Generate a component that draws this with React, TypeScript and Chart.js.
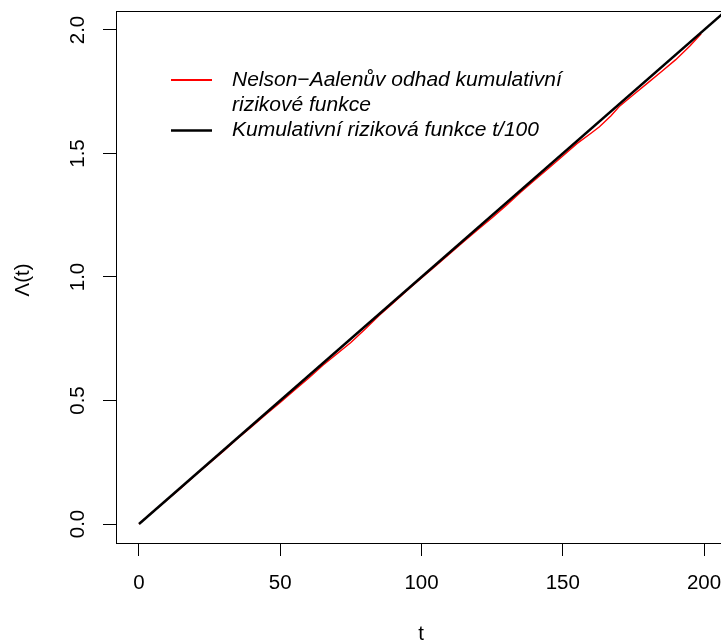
import React, { useEffect, useRef } from "react";
import { Chart, registerables } from "chart.js";
Chart.register(...registerables);

// Nelson–Aalen estimate
const naTimes = [0, 5, 10, 15, 20, 25, 30, 35, 40, 45, 50, 55, 60, 65, 70, 75, 80, 85, 90, 95, 100, 105, 110, 115, 120, 125, 130, 135, 140, 145, 150, 155, 160, 163, 167, 170, 175, 180, 185, 190, 195, 199];
const naValues = [0, 0.05, 0.098, 0.147, 0.198, 0.247, 0.296, 0.347, 0.395, 0.444, 0.492, 0.542, 0.59, 0.642, 0.688, 0.735, 0.788, 0.844, 0.895, 0.946, 0.996, 1.045, 1.094, 1.144, 1.192, 1.24, 1.29, 1.342, 1.392, 1.44, 1.49, 1.54, 1.582, 1.608, 1.652, 1.69, 1.738, 1.785, 1.832, 1.88, 1.935, 1.985];
// true cumulative hazard t/100
const trueTimes = [0, 250];
const trueValues = [0, 2.5];

const xTickValues = [0, 50, 100, 150, 200];
const xTickLabels = ["0", "50", "100", "150", "200"];
const yTickValues = [0, 0.5, 1, 1.5, 2];
const yTickLabels = ["0.0", "0.5", "1.0", "1.5", "2.0"];
const legendLabels = [["Nelson\u2212Aalenův odhad kumulativní", "rizikové funkce"], ["Kumulativní riziková funkce t/100"]];
const legendColors = ["#ff0000", "#000000"];
const xTitle = "t";
const yTitle = "\u039B(t)";

const FONT = '"Liberation Sans", Arial, Helvetica, sans-serif';

const rPlot = {
  id: "rPlot",
  afterDraw(chart: any) {
    const { ctx, chartArea: a, scales } = chart;
    const xs = scales.x;
    const ys = scales.y;
    ctx.save();
    ctx.strokeStyle = "#000";
    ctx.lineWidth = 1;
    ctx.strokeRect(a.left + 0.5, a.top + 0.5, a.right - a.left, a.bottom - a.top);

    ctx.fillStyle = "#000";
    ctx.font = `20.5px ${FONT}`;
    ctx.textAlign = "center";
    ctx.textBaseline = "middle";
    xTickValues.forEach((v, i) => {
      ctx.fillText(xTickLabels[i], xs.getPixelForValue(v), a.bottom + 40);
    });
    yTickValues.forEach((v, i) => {
      ctx.save();
      ctx.translate(a.left - 37.5, ys.getPixelForValue(v));
      ctx.rotate(-Math.PI / 2);
      ctx.fillText(yTickLabels[i], 0, 0);
      ctx.restore();
    });
    ctx.fillText(xTitle, 421, 634);
    ctx.save();
    ctx.translate(23, 280);
    ctx.rotate(-Math.PI / 2);
    ctx.fillText(yTitle, 0, 0);
    ctx.restore();

    // legend
    ctx.font = `italic 21px ${FONT}`;
    ctx.textAlign = "left";
    const rows = [80, 130.5];
    const lineH = 25.5;
    legendLabels.forEach((lines, i) => {
      ctx.strokeStyle = legendColors[i];
      ctx.lineWidth = i === 0 ? 2 : 2.5;
      ctx.beginPath();
      ctx.moveTo(171, rows[i]);
      ctx.lineTo(212, rows[i]);
      ctx.stroke();
      lines.forEach((s, j) => ctx.fillText(s, 232, rows[i] + j * lineH));
    });
    ctx.restore();
  },
};

export default function App() {
  const ref = useRef<HTMLCanvasElement>(null);
  useEffect(() => {
    if (!ref.current) return;
    const chart = new Chart(ref.current, {
      type: "scatter",
      data: {
        datasets: [
          {
            label: "Kumulativní riziková funkce t/100",
            data: trueTimes.map((t, i) => ({ x: t, y: trueValues[i] })),
            showLine: true,
            borderColor: "#000",
            borderWidth: 2.5,
            pointRadius: 0,
            clip: 0,
            order: 0,
          },
          {
            label: "Nelson-Aalenův odhad",
            data: naTimes.map((t, i) => ({ x: t, y: naValues[i] })),
            showLine: true,
            borderColor: "#ff0000",
            borderWidth: 1.4,
            pointRadius: 0,
            clip: 0,
            order: 1,
          },
        ],
      },
      options: {
        animation: false,
        responsive: false,
        layout: { padding: { left: 0, top: 11, right: 13, bottom: 0 } },
        plugins: { legend: { display: false }, tooltip: { enabled: false } },
        scales: {
          x: {
            type: "linear",
            min: -8.14,
            max: 208.14,
            afterBuildTicks: (s: any) => {
              s.ticks = xTickValues.map((v) => ({ value: v }));
            },
            afterFit: (s: any) => {
              s.height = 99;
            },
            ticks: { display: false },
            grid: { display: true, drawOnChartArea: false, drawTicks: true, tickLength: 13, color: "#000", lineWidth: 1 },
            border: { display: false },
          },
          y: {
            type: "linear",
            min: -0.07692,
            max: 2.0769,
            afterBuildTicks: (s: any) => {
              s.ticks = yTickValues.map((v) => ({ value: v }));
            },
            afterFit: (s: any) => {
              s.width = 116;
            },
            ticks: { display: false },
            grid: { display: true, drawOnChartArea: false, drawTicks: true, tickLength: 13, color: "#000", lineWidth: 1 },
            border: { display: false },
          },
        },
      },
      plugins: [rPlot],
    });
    return () => chart.destroy();
  }, []);
  return (
    <div style={{ position: "fixed", left: 0, top: 0, width: 721, height: 642, overflow: "hidden", background: "#fff" }}>
      <canvas ref={ref} width={740} height={642} style={{ display: "block" }} />
    </div>
  );
}
